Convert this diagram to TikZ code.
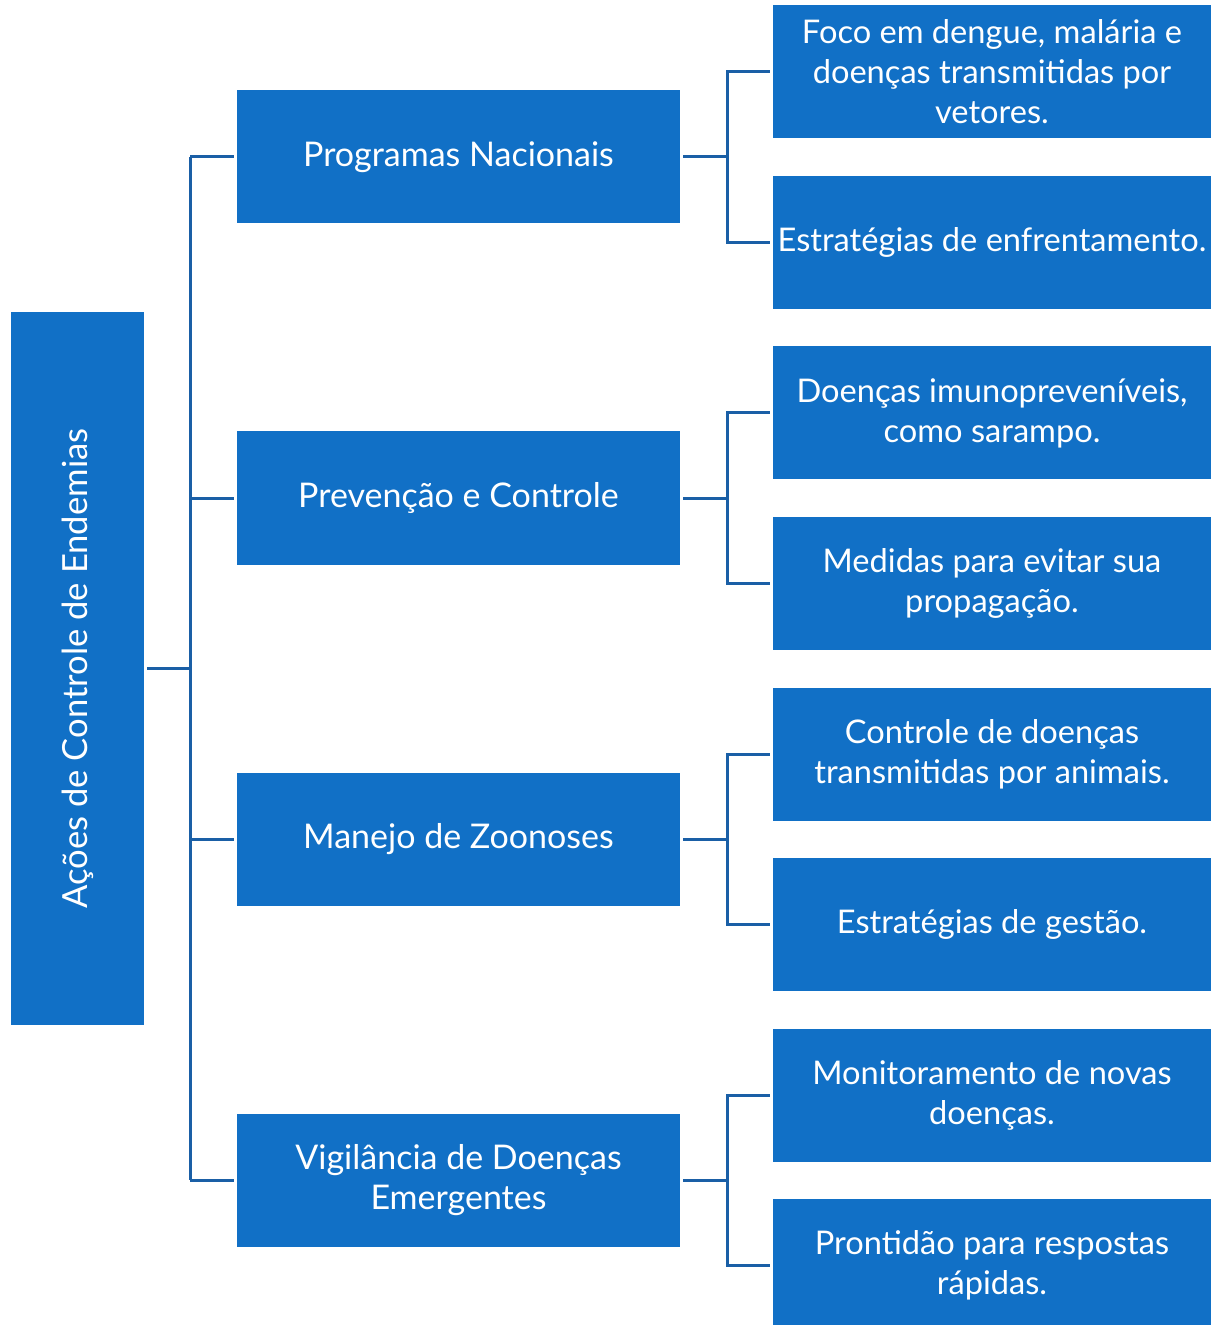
\documentclass[tikz,border=0pt]{standalone}
\usepackage{fontspec}
\setmainfont{Lato}
\definecolor{boxblue}{HTML}{1170C6}
\definecolor{lineblue}{HTML}{1A5FA6}
\tikzset{
    rootbox/.style={fill=boxblue, text=white, inner sep=0pt, minimum width=356.5pt, minimum height=66.5pt, font=\fontsize{17.3}{20}\selectfont},
    topic/.style={fill=boxblue, text=white, inner sep=0pt, align=center, minimum width=221.5pt, minimum height=66.5pt, font=\fontsize{17}{20}\selectfont},
    detail/.style={fill=boxblue, text=white, inner sep=0pt, align=center, minimum width=219pt, minimum height=66.5pt, font=\fontsize{16.3}{20}\selectfont},
    link/.style={draw=lineblue, line width=1.5pt}
}
\begin{document}
\begin{tikzpicture}[x=0.5pt,y=-0.5pt]
\useasboundingbox (0,0) rectangle (1211,1325);
\node[rootbox, rotate=90] (root) at (77.5,668.5) {Ações de Controle de Endemias};
\coordinate (trunk) at (190,668.5);
\draw[link, shorten <=1.5pt] (root.south) -- (trunk);
\foreach \i/\t/\a/\b in {
    0/{Programas Nacionais}/{Foco em dengue, malária e\\doenças transmitidas por\\vetores.}/{Estratégias de enfrentamento.},
    1/{Prevenção e Controle}/{Doenças imunopreveníveis,\\como sarampo.}/{Medidas para evitar sua\\propagação.},
    2/{Manejo de Zoonoses}/{Controle de doenças\\transmitidas por animais.}/{Estratégias de gestão.},
    3/{Vigilância de Doenças\\Emergentes}/{Monitoramento de novas\\doenças.}/{Prontidão para respostas\\rápidas.}} {
    \node[topic] (t\i) at (458.5,157+341*\i) {\t};
    \node[detail] (a\i) at (992,72+341*\i) {\a};
    \node[detail] (b\i) at (992,242.5+341*\i) {\b};
    \coordinate (f\i) at (727,157+341*\i);

    \draw[link, shorten >=1.5pt] (trunk |- t\i) -- (t\i.west);
    \draw[link, shorten <=1.5pt] (t\i.east) -- (f\i);
    \draw[link, shorten <=1.5pt, shorten >=1.5pt] (a\i.west) -| (f\i) |- (b\i.west);
}
\draw[link] (trunk |- t0) -- (trunk |- t3);
\end{tikzpicture}
\end{document}
